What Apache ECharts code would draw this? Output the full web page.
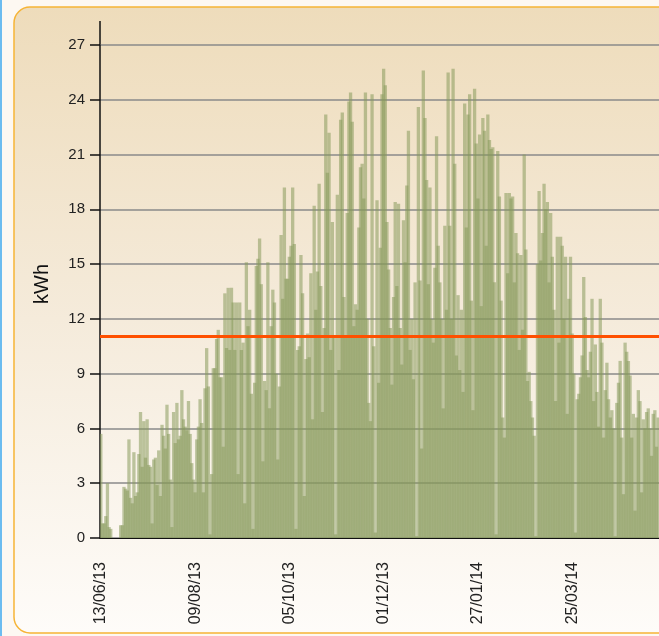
<!DOCTYPE html>
<html><head><meta charset="utf-8">
<script src="https://cdn.jsdelivr.net/npm/echarts@6/dist/echarts.min.js"></script>
<style>html,body{margin:0;padding:0;background:#fdf8f2;} #chart{width:659px;height:636px;}</style>
</head><body><div id="chart"></div>
<script>
// Daily production starting 13/06/13
const startYear = 2013, startMonth = 6, startDay = 13;
const dailyKWh = [
 5.7,0.8,0.8,1.2,3.0,0.6,0.5,0,0,0,0,0,0.7,0.7,2.8,2.7,2.6,5.4,2.2,1.9,4.7,2.3,2.5,4.6,6.9,3.9,6.4,4.4,6.5,4.0,3.9,0.8,4.3,4.4,2.9,4.8,2.3,6.2,5.6,4.9,7.3,
 5.7,3.2,0.6,6.9,5.2,7.4,5.4,5.6,8.1,6.5,6.1,5.9,7.5,5.7,4.1,3.2,2.5,5.4,6.1,7.6,6.3,2.5,8.2,10.4,8.3,0.2,3.5,9.3,9.3,10.9,11.4,8.8,8.8,5.0,13.4,10.4,13.7,10.3,13.7,12.9,10.3,12.9,
 3.5,12.9,10.3,10.7,1.9,15.1,11.6,12.5,7.9,0.5,8.5,14.9,15.3,16.4,13.9,4.2,8.6,8.1,15.1,7.1,11.6,13.6,12.9,9.0,4.3,8.3,16.6,13.1,19.2,14.2,14.2,15.4,16.0,19.2,16.1,0.5,10.3,10.5,15.5,13.4,2.3,9.8,11.2,
 9.9,14.5,6.5,18.2,12.5,14.6,19.4,13.8,6.9,11.5,23.2,20.0,22.2,10.3,17.3,11.0,0.2,18.8,9.2,22.9,23.3,13.2,11.0,17.8,23.9,24.4,22.8,11.6,12.8,12.5,17.0,20.3,20.5,18.6,24.4,12.0,7.4,6.4,24.3,10.5,0.3,18.5,8.5,
 15.9,24.3,25.7,24.8,17.3,14.7,11.5,8.4,13.2,18.4,13.8,18.3,11.5,9.5,17.4,15.1,19.3,22.3,10.3,12.0,8.7,14.0,0.1,23.6,14.1,4.9,25.6,23.0,19.6,13.9,19.2,12.0,10.7,14.8,22.0,16.0,14.0,12.0,7.1,17.1,12.5,25.5,
 17.1,12.0,25.7,20.5,10.0,13.3,9.2,12.5,8.0,23.8,17.0,23.2,24.3,13.0,7.0,24.6,21.6,18.6,22.1,12.7,23.0,22.3,16.0,23.2,21.8,21.3,21.4,14.0,0.2,21.2,18.7,13.0,6.6,5.5,18.9,14.5,18.9,18.6,18.7,14.0,16.7,15.6,10.3,
 15.5,11.4,21.0,15.8,8.6,9.1,7.5,6.6,5.6,0.1,15.0,19.0,15.2,16.7,19.4,18.0,18.4,14.0,17.8,15.4,12.5,7.5,16.5,10.7,16.5,16.0,12.0,15.4,6.8,13.1,15.4,11.2,9.0,0.3,7.6,7.9,8.8,10.0,14.3,12.1,9.2,8.8,
 10.2,13.1,7.5,10.6,8.0,6.1,13.1,10.7,5.5,8.1,9.6,7.6,6.6,7.0,6.0,0.1,7.4,8.5,9.7,5.5,2.4,10.7,10.2,9.7,8.9,5.5,6.8,1.5,6.6,8.1,7.5,2.5,6.5,6.0,6.9,7.1,6.0,4.5,6.8,7.0,5.0,6.6
];
const averageKWh = 11.05;
const yMin = 0, yMax = 27, yStep = 3;
const labelEveryDays = 57;

function pad(n){ return (n < 10 ? '0' : '') + n; }
const dates = dailyKWh.map(function(_, i){
  const t = new Date(Date.UTC(startYear, startMonth - 1, startDay + i));
  return pad(t.getUTCDate()) + '/' + pad(t.getUTCMonth() + 1) + '/' + pad(t.getUTCFullYear() % 100);
});

const chart = echarts.init(document.getElementById('chart'), null, {renderer: 'canvas'});
const font = 'Liberation Sans, Arial, Helvetica, sans-serif';
chart.setOption({
  animation: false,
  backgroundColor: 'transparent',
  graphic: [
    {type: 'rect', z: -10, silent: true,
     shape: {x: 14, y: 7, width: 720, height: 626, r: 16},
     style: {fill: {type: 'linear', x: 0, y: 0, x2: 0, y2: 1, colorStops: [
        {offset: 0, color: '#eedcbb'}, {offset: 0.5, color: '#f5ebdb'}, {offset: 1, color: '#fefcf9'}]},
        stroke: '#f6b436', lineWidth: 1.5}},
    {type: 'rect', silent: true, shape: {x: 0, y: 0, width: 2, height: 636}, style: {fill: '#6cbcf0'}},
    {type: 'line', silent: true, shape: {x1: 100, y1: 21, x2: 100, y2: 45}, style: {stroke: '#111', lineWidth: 1.5}},
    {type: 'text', silent: true, x: 42, y: 284, rotation: Math.PI / 2,
     style: {text: 'kWh', font: '20px ' + font, fill: '#111', align: 'center', verticalAlign: 'middle', textAlign: 'center', textVerticalAlign: 'middle'}}
  ],
  grid: {left: 100, right: 0, top: 45, bottom: 98},
  xAxis: {
    type: 'category', data: dates, boundaryGap: true,
    axisLine: {lineStyle: {color: '#111', width: 1.2}},
    axisTick: {interval: labelEveryDays - 1, alignWithLabel: true, length: 10, lineStyle: {color: '#111', width: 1.5}},
    axisLabel: {interval: labelEveryDays - 1, rotate: 90, margin: 24, fontSize: 16, color: '#222', fontFamily: font},
    splitLine: {show: false}
  },
  yAxis: {
    type: 'value', min: yMin, max: yMax, interval: yStep,
    axisLine: {show: true, lineStyle: {color: '#111', width: 1.5}},
    axisTick: {show: true, length: 10, lineStyle: {color: '#111', width: 1.5}},
    axisLabel: {margin: 15, fontSize: 15, color: '#222', fontFamily: font},
    splitLine: {show: true, lineStyle: {color: '#8a8a8a', width: 1.5}}
  },
  series: [{
    type: 'bar', data: dailyKWh, barWidth: 3.3, large: false,
    itemStyle: {color: 'rgba(134,154,90,0.54)'},
    markLine: {silent: true, symbol: 'none', label: {show: false},
      data: [{yAxis: averageKWh}],
      lineStyle: {color: '#ff5000', width: 3, type: 'solid'}}
  }]
});
</script>
</body></html>
